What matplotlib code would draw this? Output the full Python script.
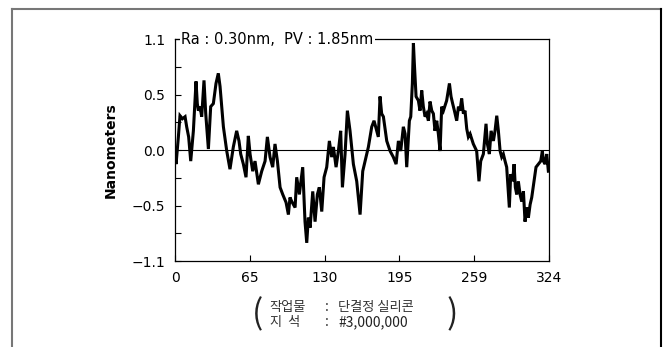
import matplotlib
matplotlib.use("Agg")
import matplotlib.pyplot as plt
from matplotlib.lines import Line2D

# 표면 거칠기 프로파일 (x: 측정 위치, y: 높이 nm)
pos = [0, 0.9, 2.9, 4.3, 6.4, 8.7, 10.1, 11.8, 13.6, 15.9, 18.2, 19.3, 20.2, 21.7,
       23.1, 25.1, 26.6, 28.9, 30.9, 33.2, 35.5, 37.5, 39.0, 41.9, 44.8, 47.6, 50.5,
       53.4, 55.4, 56.9, 59.2, 61.5, 63.5, 65.0, 67.3, 69.3, 72.2, 75.1, 78.0, 80.0,
       82.3, 84.6, 86.6, 88.7, 91.0, 93.3, 96.2, 98.2, 99.6, 101.1, 104.0, 105.4,
       107.7, 110.6, 112.6, 114.1, 115.5, 117.0, 119.3, 121.3, 123.3, 125.0, 127.1,
       129.1, 131.4, 133.7, 135.7, 137.2, 139.5, 141.5, 143.5, 145.0, 147.3, 149.3,
       151.6, 154.5, 157.4, 160.3, 162.6, 165.5, 167.5, 170.4, 172.4, 174.7, 176.1,
       177.6, 179.0, 180.5, 183.4, 186.3, 189.1, 191.5, 193.5, 195.5, 197.8, 199.3,
       200.7, 203.0, 204.2, 205.6, 206.5, 207.3, 208.8, 210.8, 212.2, 213.7, 215.1,
       216.6, 218.0, 219.5, 220.9, 222.4, 223.8, 225.2, 226.7, 228.1, 229.6, 231.0,
       232.5, 233.9, 235.3, 237.7, 239.1, 240.5, 242.0, 244.0, 245.5, 246.9, 248.3,
       249.8, 251.2, 252.7, 254.1, 255.6, 258.4, 261.3, 263.3, 264.8, 267.1, 269.4,
       270.6, 272.3, 273.8, 275.8, 277.2, 278.7, 280.1, 281.6, 283.0, 284.4, 285.9,
       287.3, 289.6, 290.8, 292.5, 293.7, 294.8, 296.0, 297.4, 298.9, 300.3, 301.8,
       303.2, 304.7, 306.1, 307.6, 309.0, 311.0, 312.7, 314.8, 316.8, 318.2, 319.1,
       320.5, 322.0, 323.4]
height = [-0.04, -0.14, 0.13, 0.34, 0.31, 0.33, 0.23, 0.13, -0.11, 0.19, 0.68, 0.46,
          0.39, 0.43, 0.33, 0.69, 0.36, 0.01, 0.43, 0.46, 0.66, 0.76, 0.63, 0.23, -0.01,
          -0.19, 0.03, 0.19, 0.09, -0.04, -0.14, -0.27, 0.14, -0.04, -0.21, -0.11, -0.34,
          -0.21, -0.11, 0.13, -0.07, -0.17, 0.06, -0.11, -0.37, -0.44, -0.52, -0.64,
          -0.47, -0.51, -0.57, -0.27, -0.44, -0.17, -0.71, -0.92, -0.67, -0.77, -0.41,
          -0.71, -0.44, -0.37, -0.61, -0.27, -0.17, 0.09, -0.07, 0.03, -0.17, -0.01,
          0.19, -0.37, -0.04, 0.39, 0.19, -0.14, -0.31, -0.64, -0.21, -0.07, 0.03, 0.23,
          0.29, 0.19, 0.13, 0.53, 0.36, 0.33, 0.09, -0.01, -0.07, -0.14, 0.09, -0.01,
          0.23, 0.16, -0.17, 0.29, 0.33, 0.66, 1.06, 0.86, 0.53, 0.49, 0.39, 0.59, 0.43,
          0.33, 0.36, 0.29, 0.48, 0.39, 0.36, 0.19, 0.29, 0.16, -0.01, 0.43, 0.39, 0.44,
          0.49, 0.66, 0.53, 0.46, 0.39, 0.29, 0.43, 0.39, 0.51, 0.36, 0.39, 0.21, 0.13,
          0.16, 0.06, -0.01, -0.31, -0.11, -0.04, 0.26, 0.06, -0.04, 0.19, 0.09, 0.19,
          0.34, 0.19, -0.01, -0.07, -0.04, -0.11, -0.17, -0.57, -0.24, -0.31, -0.14,
          -0.37, -0.44, -0.31, -0.44, -0.51, -0.41, -0.71, -0.57, -0.67, -0.54, -0.47,
          -0.31, -0.17, -0.14, -0.11, -0.01, -0.11, -0.14, -0.04, -0.21]

xticks = [0, 64.8, 129.6, 194.4, 259.2, 324]
xlabels = ["0", "65", "130", "195", "259", "324"]
yticks = [-1.1, -0.825, -0.55, -0.275, 0, 0.275, 0.55, 0.825, 1.1]
ylabels = ["\u22121.1", "", "\u22120.5", "", "0.0", "", "0.5", "", "1.1"]

fig = plt.figure(figsize=(6.66, 3.47), dpi=100)

# 바깥 테두리
fig.add_artist(Line2D([0.018, 0.018], [-0.1, 0.974], color="#777777", lw=1.5))
fig.add_artist(Line2D([0.018, 0.9925], [0.974, 0.974], color="#777777", lw=1.5))
fig.add_artist(Line2D([0.9925, 0.9925], [-0.1, 0.974], color="black", lw=1.5))

ax = fig.add_axes([0.2628, 0.2478, 0.5616, 0.6398])
ax.plot(pos, height, color="black", lw=2.2, solid_joinstyle="miter")
ax.axhline(0, color="black", lw=0.8)
ax.set_xlim(0, 324)
ax.set_ylim(-1.1, 1.1)

ax.set_xticks(xticks)
ax.set_xticklabels(xlabels)
ax.set_yticks(yticks)
ax.set_yticklabels(ylabels)
ax.tick_params(direction="in", length=4, width=0.8, labelsize=10, pad=7)
for s in ax.spines.values():
    s.set_linewidth(0.9)

ax.set_ylabel("Nanometers", fontsize=10, fontweight="bold", labelpad=10)

ax.text(0.016, 1.0, "Ra : 0.30nm,  PV : 1.85nm", transform=ax.transAxes,
        fontsize=10.5, va="center", ha="left",
        bbox=dict(facecolor="white", edgecolor="none", pad=1))

# 아래 주석
kfont = ["Noto Sans CJK KR", "DejaVu Sans"]
fig.text(0.386, 0.093, "(", fontsize=24, va="center", ha="center", family=kfont, color="#222222")
fig.text(0.679, 0.093, ")", fontsize=24, va="center", ha="center", family=kfont, color="#222222")
fig.text(0.405, 0.115, "작업물", fontsize=9.5, va="center", ha="left", family=kfont, color="#333333")
fig.text(0.491, 0.115, ":", fontsize=10, va="center", ha="center", family=kfont, color="#333333")
fig.text(0.508, 0.115, "단결정 실리콘", fontsize=9.5, va="center", ha="left", family=kfont, color="#333333")
fig.text(0.405, 0.072, "지  석", fontsize=9.5, va="center", ha="left", family=kfont, color="#333333")
fig.text(0.491, 0.072, ":", fontsize=10, va="center", ha="center", family=kfont, color="#333333")
fig.text(0.508, 0.072, "#3,000,000", fontsize=10, va="center", ha="left", family=kfont, color="#222222")

fig.savefig("out.png", dpi=100)
